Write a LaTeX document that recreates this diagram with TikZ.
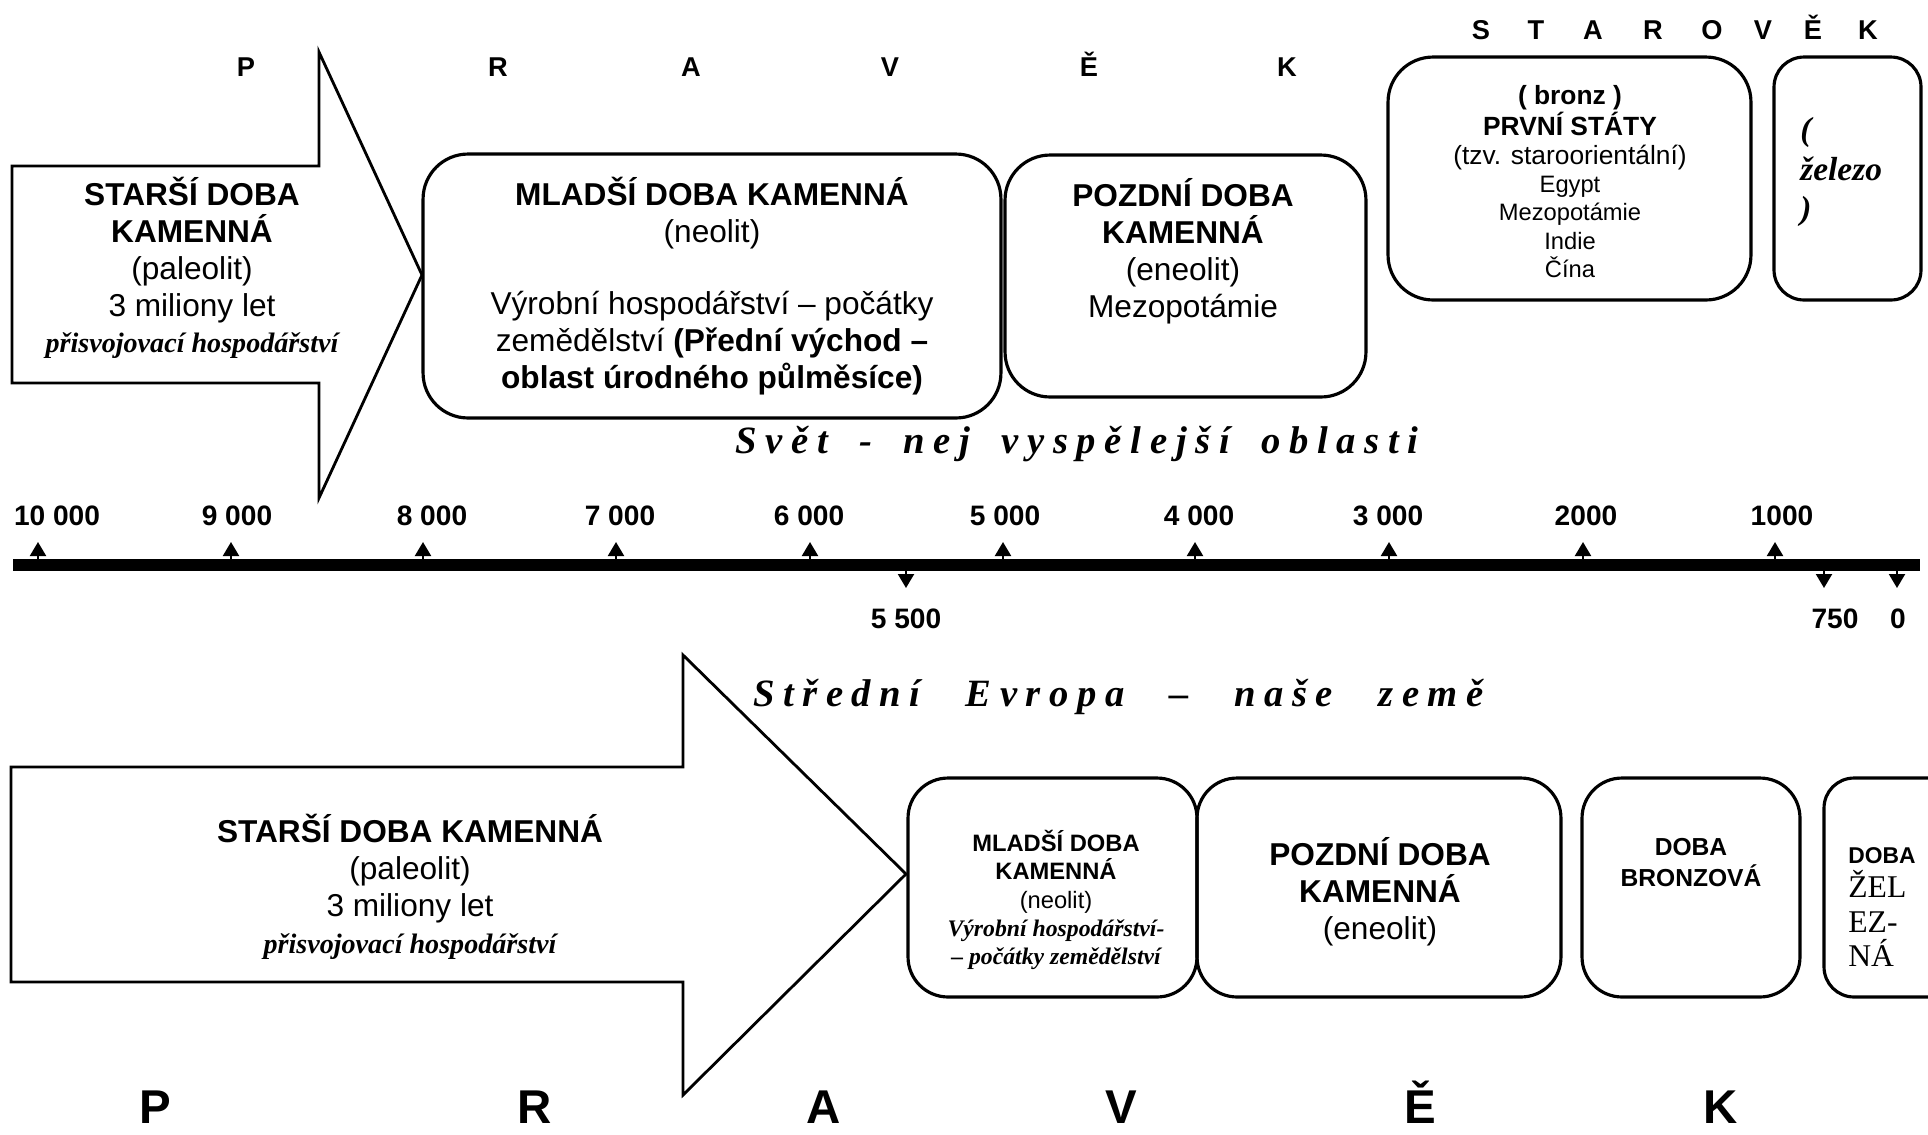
\documentclass[tikz,border=0pt]{standalone}
\usepackage{fontspec}
\setmainfont{Liberation Sans}
\newfontfamily\timesfont{Liberation Serif}
\newfontfamily\sperrt[LetterSpace=22,WordSpace=2.5]{Liberation Serif}
\newfontfamily\sperrtb[LetterSpace=22.5,WordSpace=1.7]{Liberation Serif}
\usetikzlibrary{arrows.meta}

\begin{document}
\begin{tikzpicture}[x=0.02cm, y=-0.02cm]
	\tikzstyle{box} = [draw, line width=1.8pt, rounded corners=0.9cm, inner sep=0pt]
	\tikzstyle{block arrow} = [draw, line width=1.6pt, line join=miter]
	\tikzstyle{txt} = [align=center, inner sep=0pt, font=\fontsize{18}{21}\selectfont]
	\tikzstyle{small txt} = [align=center, inner sep=0pt, font=\fontsize{13.5}{16}\selectfont]
	\tikzstyle{letter} = [anchor=base, inner sep=0pt, font=\bfseries\fontsize{15.5}{18}\selectfont]
	\tikzstyle{big letter} = [letter, font=\bfseries\fontsize{27}{30}\selectfont]
	\tikzstyle{region} = [anchor=base, inner sep=0pt, font=\sperrt\bfseries\itshape\fontsize{22}{24}\selectfont]
	\tikzstyle{year} = [anchor=base, inner sep=0pt, font=\bfseries\fontsize{16}{18}\selectfont]
	\tikzstyle{tick} = [line width=1.2pt, -{Triangle[width=0.32cm,length=0.28cm]}]

	\useasboundingbox (0,0) rectangle (1928,1134);

	% svet - nahore
	\foreach \ch/\x [count=\i] in {P/246, R/498, A/691, V/890, Ě/1089, K/1287}
		\node[letter] (pt\i) at (\x,76) {\ch};
	\foreach \ch/\x [count=\i] in {S/1481, T/1536, A/1593, R/1653, O/1712, V/1763, Ě/1813, K/1868}
		\node[letter] (st\i) at (\x,39) {\ch};

	\draw[block arrow] (12,166) -- (319,166) -- (319,52) -- (422,275) -- (319,498) -- (319,383) -- (12,383) -- cycle;
	\node[txt] (paleo) at (192,268) {\textbf{STARŠÍ DOBA}\\\textbf{KAMENNÁ}\\(paleolit)\\3 miliony let\\{\timesfont\bfseries\itshape\fontsize{16}{21}\selectfont přisvojovací hospodářství}};

	\node[box, txt, minimum width=11.56cm, minimum height=5.28cm] (neo) at (712,286) {\textbf{MLADŠÍ DOBA KAMENNÁ}\\(neolit)\\[0.7cm]Výrobní hospodářství – počátky\\zemědělství \textbf{(Přední východ –}\\\textbf{oblast úrodného půlměsíce)}};

	\node[box, minimum width=7.22cm, minimum height=4.84cm] (eneo) at (1185.5,276) {};
	\node[txt] (eneoT) at (1183,251) {\textbf{POZDNÍ DOBA}\\\textbf{KAMENNÁ}\\(eneolit)\\Mezopotámie};

	\node[box, minimum width=7.26cm, minimum height=4.86cm] (bronz) at (1569.5,178.5) {};
	\node[align=center, inner sep=0pt, font=\fontsize{13.5}{16.2}\selectfont] (bronzT) at (1570,182) {{\bfseries\fontsize{15}{16}\selectfont ( bronz )}\\{\bfseries\fontsize{15}{16}\selectfont PRVNÍ STÁTY}\\{\fontsize{15}{16}\selectfont (tzv. staroorientální)}\\Egypt\\Mezopotámie\\Indie\\Čína};

	\node[box, rounded corners=0.6cm, minimum width=2.94cm, minimum height=4.86cm] (zelezo) at (1847.5,178.5) {};
	\node[anchor=west, align=left, inner sep=0pt, font=\timesfont\bfseries\itshape\fontsize{19}{22.5}\selectfont] (zelezoT) at (1800,172) {(\\železo\\)};

	\node[region, font=\sperrtb\bfseries\itshape\fontsize{22}{24}\selectfont] (svet) at (1077,453) {Svět - nej vyspělejší oblasti};

	% casova osa
	\node[fill=black, inner sep=0pt, minimum width=38.14cm, minimum height=0.24cm] (axis) at (966.5,565) {};
	\foreach \x/\lx/\yr [count=\i] in {38/57/{10 000}, 231/237/{9 000}, 423/432/{8 000}, 616/620/{7 000}, 810/809/{6 000}, 1003/1005/{5 000}, 1195/1199/{4 000}, 1389/1388/{3 000}, 1583/1586/2000, 1775/1782/1000}
	{
		\coordinate (up\i) at (\x,542);
		\draw[tick] (up\i |- axis.north) -- (up\i);
		\node[year] (yu\i) at (\lx,525) {\yr};
	}
	\foreach \x/\lx/\yr [count=\i] in {906/906/{5 500}, 1824/1835/750, 1897/1898/0}
	{
		\coordinate (dn\i) at (\x,588);
		\draw[tick] (dn\i |- axis.south) -- (dn\i);
		\node[year] (yd\i) at (\lx,628) {\yr};
	}

	% stredni Evropa - dole
	\node[region] (evropa) at (1118.5,706) {Střední Evropa – naše země};

	\draw[block arrow] (11,767) -- (683,767) -- (683,655) -- (906,874) -- (683,1095) -- (683,982) -- (11,982) -- cycle;
	\node[txt] (paleo2) at (410,887) {\textbf{STARŠÍ DOBA KAMENNÁ}\\(paleolit)\\3 miliony let\\{\timesfont\bfseries\itshape\fontsize{16}{21}\selectfont přisvojovací hospodářství}};

	\node[box, rounded corners=0.8cm, minimum width=5.78cm, minimum height=4.38cm] (neo2) at (1052.5,887.5) {};
	\node[small txt] (neo2T) at (1056,900) {\textbf{MLADŠÍ DOBA}\\\textbf{KAMENNÁ}\\(neolit)\\{\timesfont\bfseries\itshape Výrobní hospodářství-}\\{\timesfont\bfseries\itshape – počátky zemědělství}};

	\node[box, rounded corners=0.8cm, minimum width=7.28cm, minimum height=4.38cm] (eneo2) at (1379,887.5) {};
	\node[txt] (eneo2T) at (1380,892) {\textbf{POZDNÍ DOBA}\\\textbf{KAMENNÁ}\\(eneolit)};

	\node[box, rounded corners=0.8cm, minimum width=4.36cm, minimum height=4.38cm] (bronz2) at (1691,887.5) {};
	\node[txt, font=\bfseries\fontsize{14}{17.5}\selectfont] (bronz2T) at (1691,862.5) {DOBA\\BRONZOVÁ};

	\node[box, rounded corners=0.6cm, minimum width=3.12cm, minimum height=4.38cm] (zelezna2) at (1902,887.5) {};
	\node[anchor=west, align=left, inner sep=0pt, font=\timesfont\fontsize{18}{19.5}\selectfont] (zelezna2T) at (1848,907) {{\normalfont\bfseries\fontsize{13}{19.5}\selectfont DOBA}\\ŽEL\\EZ-\\NÁ};

	\foreach \ch/\x [count=\i] in {P/155, R/535, A/824, V/1121, Ě/1420, K/1721}
		\node[big letter] (pb\i) at (\x,1123) {\ch};
\end{tikzpicture}
\end{document}
